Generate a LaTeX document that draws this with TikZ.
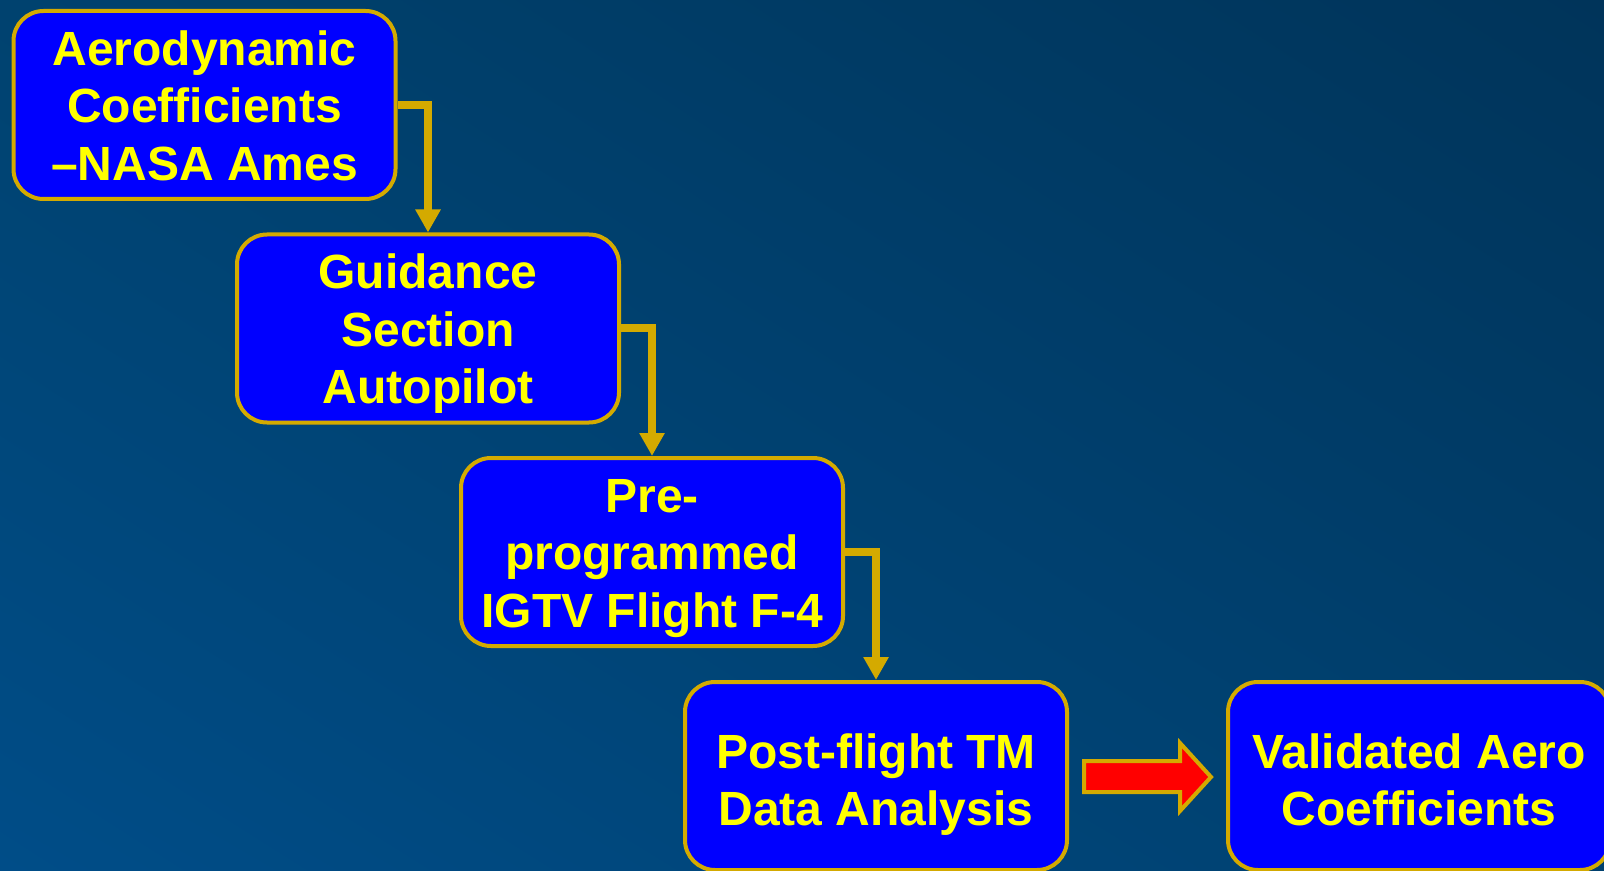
\documentclass[tikz,border=0pt]{standalone}
\usepackage{fontspec}
\setmainfont{Liberation Sans}
\usepackage{tikz}
\usetikzlibrary{arrows.meta,positioning,shadings}
\definecolor{boxblue}{HTML}{0000FF}
\definecolor{gold}{HTML}{D4AA00}
\definecolor{txtyellow}{HTML}{FFFF00}
\definecolor{bgTL}{HTML}{00426F}
\definecolor{bgTR}{HTML}{00345A}
\definecolor{bgBL}{HTML}{004D88}
\definecolor{bgBR}{HTML}{00406E}
% centred lines, dropped a little so the capitals sit mid-box
\newcommand{\stagetext}[2][-3.2pt]{\raisebox{#1}[\height][\depth]{%
  \begin{tabular}{@{}c@{}}#2\end{tabular}}}
\tikzset{
  stage/.style={draw=gold,line width=2pt,fill=boxblue,rounded corners=15pt,
    minimum width=191pt,minimum height=94pt,inner sep=0pt,text=txtyellow,
    font=\bfseries\fontsize{24}{28.75}\selectfont},
  link/.style={draw=gold,line width=4pt,-{Triangle[width=12pt,length=11.5pt]}},
  bigarrow/.style={draw=gold,line width=2pt,fill=red,line join=miter}
}

\begin{document}
\begin{tikzpicture}[x=0.5pt,y=-0.5pt]
  % background
  \useasboundingbox (0,0) rectangle (1604,871);
  \shade[upper left=bgTL,upper right=bgTR,lower left=bgBL,lower right=bgBR]
    (0,0) rectangle (1604,871);
  % stages
  \node[stage] (aero)  at (204.5,105)
    {\stagetext{Aerodynamic\\Coefficients\\–NASA Ames}};
  \node[stage] (guid)  at (428,328.5) {\stagetext{Guidance\\Section\\Autopilot}};
  \node[stage] (igtv)  at (652,552)
    {\stagetext{Pre-\\programmed\\IGTV Flight F-4}};
  \node[stage] (post)  at (876,776)
    {\stagetext[-4.7pt]{Post-flight TM\\Data Analysis}};
  \node[stage] (valid) at (1419,776)
    {\stagetext[-4.7pt]{Validated Aero\\Coefficients}};
  % connectors
  \draw[link] (aero.east) -| (guid.north);
  \draw[link] (guid.east) -| (igtv.north);
  \draw[link] (igtv.east) -| (post.north);
  % block arrow post -> valid
  \draw[bigarrow] (1084,761) -- (1180,761) -- (1180,743) -- (1211,777)
    -- (1180,811) -- (1180,792) -- (1084,792) -- cycle;
\end{tikzpicture}
\end{document}
